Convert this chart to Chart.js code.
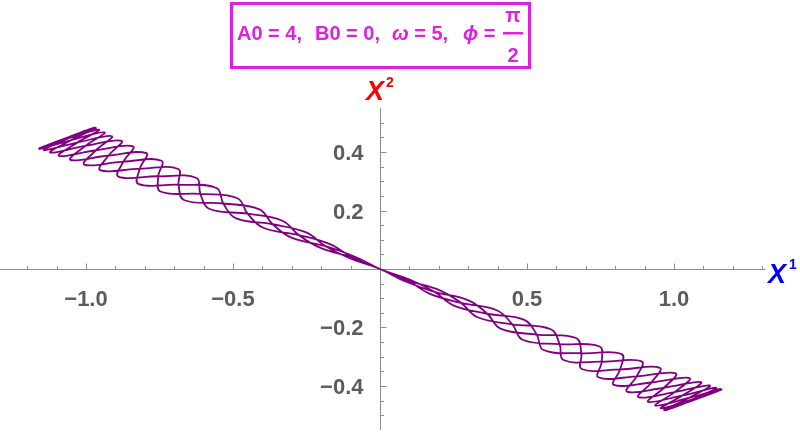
<!DOCTYPE html>
<html>
<head>
<meta charset="utf-8">
<script src="https://cdn.jsdelivr.net/npm/chart.js@4.4.1/dist/chart.umd.min.js"></script>
<style>
  html, body { margin: 0; padding: 0; background: #fff; }
</style>
</head>
<body>
<canvas id="myChart" width="800" height="433"></canvas>
<script>
// trajectory (X1, X2), one list per sweep across the plot
const pass1 = [[-1.162,0.412],[-1.062,0.446],[-0.955,0.476],[-1.030,0.432],[-1.092,0.387],[-0.966,0.406],[-0.840,0.419],[-0.873,0.367],[-0.890,0.316],[-0.754,0.317],[-0.624,0.311],[-0.611,0.257],[-0.581,0.206],[-0.450,0.189],[-0.332,0.165],[-0.276,0.116],[-0.202,0.072],[-0.093,0.039],[0,0],
  [0.093,-0.039],[0.202,-0.072],[0.276,-0.116],[0.332,-0.165],[0.450,-0.189],[0.581,-0.206],[0.611,-0.257],[0.624,-0.311],[0.754,-0.317],[0.890,-0.316],[0.873,-0.367],[0.840,-0.419],[0.966,-0.406],[1.092,-0.387],[1.030,-0.432],[0.955,-0.476],[1.062,-0.446],[1.162,-0.412]];

const pass2 = [[1.066,-0.448],[0.966,-0.482],[1.050,-0.441],[1.122,-0.398],[1.002,-0.421],[0.879,-0.438],[0.923,-0.388],[0.952,-0.338],[0.817,-0.343],[0.686,-0.342],[0.685,-0.288],[0.667,-0.236],[0.533,-0.224],[0.410,-0.204],[0.365,-0.153],[0.301,-0.107],[0.185,-0.078],[0.085,-0.042],[0,0],
  [-0.101,0.036],[-0.185,0.078],[-0.251,0.125],[-0.365,0.153],[-0.491,0.174],[-0.533,0.224],[-0.556,0.277],[-0.685,0.288],[-0.822,0.291],[-0.817,0.343],[-0.795,0.396],[-0.923,0.388],[-1.053,0.373],[-1.002,0.421],[-0.937,0.467],[-1.050,0.441],[-1.158,0.410],[-1.066,0.448]];

const pass3 = [[-0.970,0.484],[-1.062,0.446],[-1.144,0.406],[-1.030,0.432],[-0.912,0.454],[-0.966,0.406],[-1.006,0.357],[-0.873,0.367],[-0.743,0.370],[-0.754,0.317],[-0.747,0.265],[-0.611,0.257],[-0.485,0.242],[-0.450,0.189],[-0.397,0.141],[-0.276,0.116],[-0.168,0.084],[-0.093,0.039],[0,0],
  [0.093,-0.039],[0.168,-0.084],[0.276,-0.116],[0.397,-0.141],[0.450,-0.189],[0.485,-0.242],[0.611,-0.257],[0.747,-0.265],[0.754,-0.317],[0.743,-0.370],[0.873,-0.367],[1.006,-0.357],[0.966,-0.406],[0.912,-0.454],[1.030,-0.432],[1.144,-0.406],[1.062,-0.446],[0.970,-0.484]];

const pass4 = [[1.066,-0.448],[1.158,-0.410],[1.050,-0.441],[0.937,-0.467],[1.002,-0.421],[1.053,-0.373],[0.923,-0.388],[0.795,-0.396],[0.817,-0.343],[0.822,-0.291],[0.685,-0.288],[0.556,-0.277],[0.533,-0.224],[0.491,-0.174],[0.365,-0.153],[0.251,-0.125],[0.185,-0.078],[0.101,-0.036],[0,0],
  [-0.085,0.042],[-0.185,0.078],[-0.301,0.107],[-0.365,0.153],[-0.410,0.204],[-0.533,0.224],[-0.667,0.236],[-0.685,0.288],[-0.686,0.342],[-0.817,0.343],[-0.952,0.338],[-0.923,0.388],[-0.879,0.438],[-1.002,0.421],[-1.122,0.398],[-1.050,0.441],[-0.966,0.482],[-1.066,0.448],[-1.162,0.412]];

const xMajorTicks = [-1.0, -0.5, 0.5, 1.0];
const xTickLabels = ['\u22121.0', '\u22120.5', '0.5', '1.0'];
const xMinorTicks = [-1.2, -1.1, -0.9, -0.8, -0.7, -0.6, -0.4, -0.3, -0.2, -0.1, 0.1, 0.2, 0.3, 0.4, 0.6, 0.7, 0.8, 0.9, 1.1, 1.2, 1.3];
const yMajorTicks = [0.4, 0.2, -0.2, -0.4];
const yTickLabels = ['0.4', '0.2', '\u22120.2', '\u22120.4'];
const yMinorTicks = [0.5, 0.45, 0.35, 0.3, 0.25, 0.15, 0.1, 0.05, -0.05, -0.1, -0.15, -0.25, -0.3, -0.35, -0.45, -0.5];

const xAxisEnd = [-1.2925, 1.31];
const yAxisEnd = [-0.55, 0.55];

const FONT = '"Liberation Sans", Arial, sans-serif';
const MAGENTA = '#e020e0';

// axes crossing at the origin, Mathematica style (ticks point inward)
const axesPlugin = {
  id: 'axesPlugin',
  beforeDatasetsDraw(chart) {
    const { ctx, scales: { x, y } } = chart;
    const x0 = Math.round(x.getPixelForValue(0)) + 0.5;
    const y0 = Math.round(y.getPixelForValue(0)) + 0.5;
    ctx.save();
    ctx.strokeStyle = '#8c8c8c';
    ctx.lineWidth = 1;
    ctx.beginPath();
    ctx.moveTo(x.getPixelForValue(xAxisEnd[0]), y0);
    ctx.lineTo(x.getPixelForValue(xAxisEnd[1]), y0);
    ctx.moveTo(x0, y.getPixelForValue(yAxisEnd[1]));
    ctx.lineTo(x0, y.getPixelForValue(yAxisEnd[0]));
    xMajorTicks.forEach(v => { const px = Math.round(x.getPixelForValue(v)) + 0.5; ctx.moveTo(px, y0); ctx.lineTo(px, y0 - 6); });
    xMinorTicks.forEach(v => { const px = Math.round(x.getPixelForValue(v)) + 0.5; ctx.moveTo(px, y0); ctx.lineTo(px, y0 - 3.5); });
    yMajorTicks.forEach(v => { const py = Math.round(y.getPixelForValue(v)) + 0.5; ctx.moveTo(x0, py); ctx.lineTo(x0 + 6, py); });
    yMinorTicks.forEach(v => { const py = Math.round(y.getPixelForValue(v)) + 0.5; ctx.moveTo(x0, py); ctx.lineTo(x0 + 3.5, py); });
    ctx.stroke();

    ctx.fillStyle = '#5c5c5c';
    ctx.font = 'bold 22px ' + FONT;
    ctx.textBaseline = 'alphabetic';
    ctx.textAlign = 'center';
    xMajorTicks.forEach((v, i) => ctx.fillText(xTickLabels[i], x.getPixelForValue(v), y0 + 36));
    ctx.textAlign = 'right';
    yMajorTicks.forEach((v, i) => ctx.fillText(yTickLabels[i], x0 - 17, y.getPixelForValue(v) + 8));

    // axis names
    ctx.textAlign = 'left';
    ctx.fillStyle = '#ff0000';
    ctx.font = 'italic bold 27px ' + FONT;
    ctx.fillText('X', 366, 100);
    ctx.font = 'bold 14px ' + FONT;
    ctx.fillText('2', 386, 87);
    ctx.fillStyle = '#0000ff';
    ctx.font = 'italic bold 27px ' + FONT;
    ctx.fillText('X', 768, 283);
    ctx.font = 'bold 14px ' + FONT;
    ctx.fillText('1', 789, 269);
    ctx.restore();
  },
  afterDraw(chart) {
    const { ctx } = chart;
    ctx.save();
    ctx.strokeStyle = MAGENTA;
    ctx.lineWidth = 3;
    ctx.strokeRect(231.5, 3.5, 298, 64);
    ctx.fillStyle = MAGENTA;
    ctx.textBaseline = 'alphabetic';
    ctx.textAlign = 'left';
    ctx.font = 'bold 20px ' + FONT;
    ctx.fillText('A0 = 4,', 237, 40);
    ctx.fillText('B0 = 0,', 315, 40);
    ctx.font = 'italic bold 20px ' + FONT;
    ctx.fillText('\u03c9', 392, 40);
    let w = ctx.measureText('\u03c9').width;
    ctx.font = 'bold 20px ' + FONT;
    ctx.fillText(' = 5,', 392 + w, 40);
    ctx.font = 'italic bold 20px ' + FONT;
    ctx.fillText('\u03d5', 463, 40);
    w = ctx.measureText('\u03d5').width;
    ctx.font = 'bold 20px ' + FONT;
    ctx.fillText(' =', 463 + w, 40);
    ctx.textAlign = 'center';
    ctx.fillText('\u03c0', 513, 22);
    ctx.fillRect(503, 32, 20, 2.5);
    ctx.fillText('2', 513, 62);
    ctx.restore();
  }
};

const ctx = document.getElementById('myChart').getContext('2d');
const path = pass1.concat(pass2, pass3, pass4);
const myChart = new Chart(ctx, {
  type: 'scatter',
  data: {
    datasets: [{
      data: path.map(p => ({ x: p[0], y: p[1] })),
      showLine: true,
      borderColor: '#800080',
      borderWidth: 1.8,
      pointRadius: 0,
      pointHoverRadius: 0,
      tension: 0.4,
      fill: false
    }]
  },
  options: {
    responsive: false,
    animation: false,
    events: [],
    layout: { padding: { top: 100, right: 15, bottom: 0, left: 0 } },
    scales: {
      x: { type: 'linear', min: -1.2925, max: 1.3776, display: false },
      y: { type: 'linear', min: -0.5607, max: 0.5778, display: false }
    },
    plugins: {
      legend: { display: false },
      tooltip: { enabled: false }
    }
  }
  ,
  plugins: [axesPlugin]
});
</script>
</body>
</html>
